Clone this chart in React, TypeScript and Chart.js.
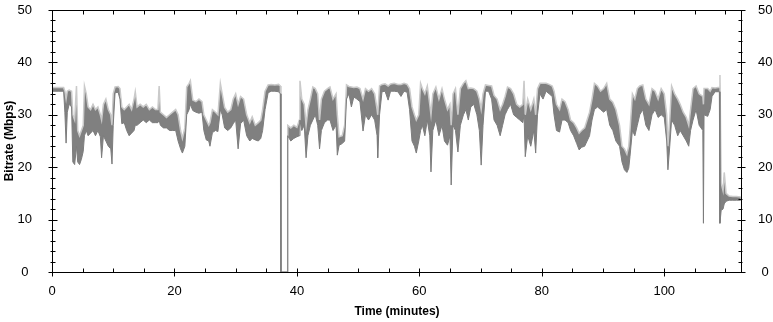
import React, { useEffect, useRef } from 'react';
import { Chart, registerables } from 'chart.js';

Chart.register(...registerables);

// Time in minutes
const times = [
  0, 1.0, 1.9, 2.1, 2.3, 2.5, 2.8, 3.2, 3.4, 3.7,
  4.0, 4.2, 4.5, 4.8, 5.1, 5.3, 5.6, 5.9, 6.3, 6.7,
  7.1, 7.5, 7.9, 8.1, 8.4, 8.8, 9.2, 9.6, 9.8, 10.0,
  10.3, 10.8, 11.1, 11.4, 11.8, 12.2, 12.6, 13.0, 13.4, 13.6,
  13.9, 14.4, 14.9, 15.4, 15.9, 16.4, 16.9, 17.3, 17.5, 17.7,
  18.2, 18.7, 19.2, 19.7, 20.2, 20.6, 21.0, 21.3, 21.7, 22.0,
  22.4, 22.6, 23.0, 23.5, 24.0, 24.5, 24.8, 25.2, 25.6, 25.8,
  26.2, 26.7, 27.1, 27.5, 27.8, 28.2, 28.7, 29.2, 29.6, 30.0,
  30.4, 30.8, 31.3, 31.8, 32.3, 32.7, 33.2, 33.7, 34.1, 34.4,
  34.8, 35.3, 35.8, 36.4, 37.0, 37.3, 37.4, 38.4, 38.5, 39.0,
  39.5, 40.0, 40.4, 40.5, 40.8, 41.2, 41.5, 41.8, 42.2, 42.6,
  43.0, 43.4, 43.7, 44.0, 44.5, 45.0, 45.4, 45.9, 46.4, 46.6,
  46.9, 47.4, 47.8, 48.1, 48.5, 48.9, 49.3, 49.8, 50.3, 50.8,
  51.2, 51.7, 52.2, 52.7, 53.1, 53.2, 53.5, 53.9, 54.4, 54.9,
  55.3, 55.9, 56.5, 57.0, 57.5, 58.0, 58.4, 58.8, 59.2, 59.5,
  59.9, 60.2, 60.5, 60.9, 61.3, 61.7, 61.9, 62.2, 62.7, 63.2,
  63.7, 64.1, 64.6, 65.0, 65.2, 65.5, 65.9, 66.3, 66.7, 67.2,
  67.6, 68.0, 68.4, 68.9, 69.4, 69.8, 70.1, 70.4, 70.8, 71.3,
  71.8, 72.2, 72.7, 73.2, 73.6, 74.0, 74.4, 74.9, 75.4, 75.9,
  76.4, 76.9, 77.1, 77.3, 77.7, 78.2, 78.7, 79.0, 79.3, 79.7,
  80.2, 80.7, 81.2, 81.7, 82.0, 82.4, 82.9, 83.3, 83.8, 84.3,
  84.7, 85.2, 85.7, 86.1, 86.5, 87.0, 87.4, 87.8, 88.2, 88.6,
  89.1, 89.6, 90.1, 90.6, 91.1, 91.6, 92.1, 92.7, 93.1, 93.5,
  93.9, 94.2, 94.4, 94.8, 95.2, 95.6, 96.0, 96.5, 97.0, 97.5,
  98.0, 98.5, 99.0, 99.5, 100.0, 100.4, 100.6, 100.9, 101.2, 101.7,
  102.2, 102.6, 103.1, 103.6, 104.0, 104.3, 104.7, 105.2, 105.7, 106.3,
  106.4, 106.5, 107.1, 107.5, 107.8, 108.3, 108.8, 109.0, 109.1, 109.3,
  109.6, 109.8, 110.1, 110.6, 111.2, 111.8, 112.5,
];

// Lower envelope of the bitrate trace (Mbps)
const lowMbps = [
  34.5, 34.5, 34.5, 30.5, 24.6, 30.5, 32, 31.5, 21, 20.5,
  24, 21, 20.5, 21.5, 23, 26, 27, 26, 26.5, 27,
  26, 27, 25.8, 21.8, 26, 25, 24, 23.5, 20.6, 28,
  34.2, 34.3, 33, 28.3, 28.5, 27, 26, 26.5, 27, 28,
  28, 28.5, 29, 28.5, 29, 28.5, 28.5, 28.5, 29, 28,
  27.5, 27.5, 27, 27, 27, 25, 23.5, 22.7, 24, 30,
  31, 32, 30.8, 30.5, 30.3, 30.5, 27, 25.2, 25, 24,
  26.6, 27, 26.8, 31, 30, 27.5, 27, 27.5, 28.3, 29,
  23.5, 28.3, 29, 26, 25, 25.5, 25.2, 25, 25.5, 27,
  31, 34.2, 34.5, 34.5, 34.4, 34, 0, 0, 26, 25,
  25.5, 25.8, 26, 29, 27, 28, 21.8, 26, 28, 29,
  30, 28, 23.5, 27, 28.5, 29, 29, 27, 28, 22.3,
  24.2, 24.5, 25, 33, 34, 31.5, 33.4, 33, 32.5, 26.9,
  30, 29, 30, 29, 26, 21.8, 30, 34.4, 34.5, 32.8,
  34.5, 34.5, 34.4, 33.5, 34.5, 34.3, 31, 25, 24, 22.7,
  25, 27, 28, 26, 29, 26, 19.1, 27, 29, 26,
  28, 25, 24.2, 26, 16.6, 28, 27, 22.9, 28, 30,
  31, 29, 31.5, 32, 30, 27, 20.4, 28, 34.5, 34.5,
  33, 29, 28, 26, 28, 30, 31, 32, 30, 29.5,
  29, 28.5, 30, 22, 26, 24, 27, 22.7, 30, 34,
  33, 34.5, 34, 33.5, 30, 27, 26.7, 29, 29, 28.5,
  27, 26, 24.5, 23.3, 23.8, 24, 25, 26, 29, 31,
  31.5, 31, 30.5, 31, 28, 27, 25, 24, 21, 19.5,
  19, 19.8, 22, 27, 26, 28, 30, 31, 28, 27,
  30, 31, 29.5, 30, 29.5, 25, 19.5, 24, 29, 28,
  26, 27, 26, 25, 24, 27, 29, 31, 28, 27,
  9.3, 30, 29.7, 31, 33.5, 34.4, 34.4, 34.4, 9.3, 11.8,
  12, 13, 13.5, 13.7, 13.7, 13.7, 13.7,
];

// Upper envelope of the bitrate trace (Mbps)
const highMbps = [
  35.2, 35.2, 35.2, 34.5, 33, 34.5, 34.7, 34.5, 30, 29,
  35.5, 27, 26, 27, 28, 35.5, 34, 31.5, 31, 32,
  31, 31.5, 30, 29, 32, 33, 31, 30, 28, 34,
  35.3, 35.4, 35, 31.5, 31, 31.5, 32, 31, 33, 34.4,
  31.5, 32, 31.5, 32, 31, 31.5, 31, 31, 35.5, 30.5,
  30, 29.5, 30, 30.5, 31, 30, 27, 25.5, 27.5, 35.3,
  36, 36.5, 32.8, 32.5, 33, 32.5, 30, 29, 28, 28.5,
  31, 30.5, 30, 36, 34, 31.4, 30.5, 31, 33, 34,
  32, 33.5, 33, 30, 28.5, 29.6, 28, 28.5, 29, 31,
  34.5, 35.7, 35.8, 35.7, 35.8, 35.5, 0, 0, 28, 27.5,
  28, 27.6, 29, 36.5, 33, 32, 28, 31, 33, 35.3,
  35, 34, 29, 33, 34.5, 35, 35.3, 33, 34, 30,
  25.8, 26, 28, 35.7, 35.4, 35.3, 35.2, 35.3, 35, 33,
  35, 34.5, 35, 34, 31, 30, 35.5, 35.8, 35.9, 35.5,
  35.9, 36, 35.8, 35.8, 36, 35.8, 35, 31.5, 30, 29,
  30, 36, 35, 34, 35.5, 32, 30, 34, 35.3, 33,
  35, 33, 31, 32, 28, 34, 35, 30, 35, 36,
  36.5, 35, 35.1, 35, 34.5, 33, 31, 34, 35.7, 35.6,
  35.5, 33.7, 33, 31, 32, 33.5, 35.3, 35, 34, 32,
  31.5, 32, 36.5, 30, 33, 31, 33, 30, 35, 36,
  36, 36, 35.8, 35.5, 34.5, 32, 31, 33, 32.5, 31,
  29, 28.5, 27.5, 26.5, 27, 27.5, 29, 30.5, 33, 36,
  35.5, 34.5, 35, 36, 33, 32.4, 31, 28, 24, 23.5,
  22.5, 24, 27, 34, 33, 35, 35.5, 35.7, 33, 32,
  35, 34.5, 33, 35, 34, 30, 24, 29, 35.5, 34,
  33, 32, 30.5, 29.5, 28, 31, 35, 35.5, 34, 33.5,
  32, 35, 35, 34.5, 35.2, 35.1, 35.2, 35.2, 37.6, 17,
  15.5, 19, 15, 14.5, 14.4, 14.4, 14.3,
];

const X_MAX = 112.7;
const Y_MAX = 50;
const X_MAJOR = 20;
const X_MINOR = 5;
const Y_MAJOR = 10;
const Y_MINOR = 2;

const FONT = "'Liberation Sans', Arial, Helvetica, sans-serif";

const boxTicksPlugin = {
  id: 'boxTicks',
  afterDraw(chart: any) {
    const { ctx, chartArea: a, scales } = chart;
    const xs = scales.x;
    const ys = scales.y;
    const L = Math.round(a.left) + 0.5;
    const R = Math.round(a.right) - 0.5;
    const T = Math.round(a.top) + 0.5;
    const B = Math.round(a.bottom) + 0.5;
    ctx.save();
    ctx.strokeStyle = '#000';
    ctx.lineWidth = 1;
    ctx.beginPath();
    ctx.rect(L, T, R - L, B - T);
    ctx.stroke();
    ctx.beginPath();
    for (let v = 0; v <= xs.max + 1e-9; v += X_MINOR) {
      const px = Math.round(xs.getPixelForValue(v)) + 0.5;
      const major = Math.abs(v % X_MAJOR) < 1e-9;
      if (major) {
        ctx.moveTo(px, B - 4);
        ctx.lineTo(px, B + 4);
      } else {
        ctx.moveTo(px, B - 4);
        ctx.lineTo(px, B);
      }
      ctx.moveTo(px, T);
      ctx.lineTo(px, T + 4);
    }
    for (let v = 0; v <= ys.max + 1e-9; v += Y_MINOR) {
      const py = Math.round(ys.getPixelForValue(v)) + 0.5;
      const major = Math.abs(v % Y_MAJOR) < 1e-9;
      if (major) {
        ctx.moveTo(L - 4, py);
        ctx.lineTo(L + 5, py);
        ctx.moveTo(R - 4, py);
        ctx.lineTo(R + 4, py);
      } else {
        ctx.moveTo(L - 2, py);
        ctx.lineTo(L + 3, py);
        ctx.moveTo(R - 3, py);
        ctx.lineTo(R + 1, py);
      }
    }
    ctx.stroke();
    ctx.restore();
  },
};

export default function App() {
  const canvasRef = useRef<HTMLCanvasElement | null>(null);

  useEffect(() => {
    const canvas = canvasRef.current;
    if (!canvas) return;
    const lowData = times.map((t, i) => ({ x: t, y: lowMbps[i] }));
    const highData = times.map((t, i) => ({ x: t, y: highMbps[i] }));
    const tickFont = { family: FONT, size: 13 };
    const titleFont = { family: FONT, size: 12, weight: 'bold' as const };
    const chart = new Chart(canvas, {
      type: 'line',
      data: {
        datasets: [
          {
            label: 'low',
            data: lowData,
            borderColor: '#7c7c7c',
            borderWidth: 1,
            pointRadius: 0,
            fill: false,
            tension: 0,
          },
          {
            label: 'high',
            data: highData,
            borderColor: '#cacaca',
            borderWidth: 1.5,
            pointRadius: 0,
            backgroundColor: '#808080',
            fill: '-1',
            tension: 0,
          },
        ],
      },
      options: {
        animation: false,
        responsive: false,
        maintainAspectRatio: false,
        layout: { padding: { top: 10, left: 0, right: 0, bottom: 0 } },
        plugins: {
          legend: { display: false },
          tooltip: { enabled: false },
        },
        scales: {
          x: {
            type: 'linear',
            position: 'bottom',
            min: 0,
            max: X_MAX,
            grid: { display: false },
            border: { display: false },
            ticks: {
              stepSize: X_MAJOR,
              includeBounds: false,
              autoSkip: false,
              maxRotation: 0,
              padding: 4,
              color: '#000',
              font: tickFont,
            },
            title: {
              display: true,
              text: 'Time (minutes)',
              color: '#000',
              font: titleFont,
              padding: { top: 0, bottom: 3 },
            },
            afterFit(s: any) {
              s.height = 50;
              s.paddingLeft = 0;
              s.paddingRight = 0;
            },
          },
          y: {
            type: 'linear',
            position: 'left',
            min: 0,
            max: Y_MAX,
            grid: { display: false },
            border: { display: false },
            ticks: {
              stepSize: Y_MAJOR,
              padding: 12,
              crossAlign: 'center',
              color: '#000',
              font: tickFont,
            },
            title: {
              display: true,
              text: 'Bitrate (Mbps)',
              color: '#000',
              font: titleFont,
              padding: { top: 2, bottom: 0 },
            },
            afterFit(s: any) {
              s.width = 52;
              s.paddingTop = 0;
              s.paddingBottom = 0;
            },
          },
          y2: {
            type: 'linear',
            position: 'right',
            min: 0,
            max: Y_MAX,
            grid: { display: false },
            border: { display: false },
            ticks: {
              stepSize: Y_MAJOR,
              padding: 8,
              crossAlign: 'center',
              color: '#000',
              font: tickFont,
            },
            afterFit(s: any) {
              s.width = 31;
              s.paddingTop = 0;
              s.paddingBottom = 0;
            },
          },
        },
      } as any,
      plugins: [boxTicksPlugin],
    });
    return () => chart.destroy();
  }, []);

  return (
    <div style={{ position: 'fixed', left: 0, top: 0, width: 773, height: 322, background: '#fff' }}>
      <canvas ref={canvasRef} width={773} height={322} style={{ display: 'block' }} />
    </div>
  );
}
